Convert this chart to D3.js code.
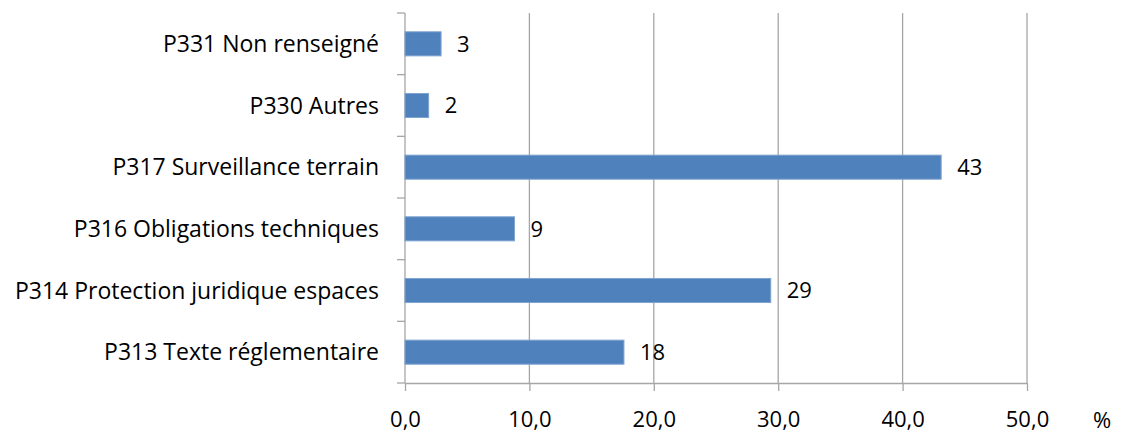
<!DOCTYPE html>
<html>
<head>
    <meta charset="utf-8">
    <title>Répartition P31x / P33x</title>
    <script src="https://d3js.org/d3.v7.min.js"></script>
    <style>
        body { margin: 0; background: #fff; }
        text { font-family: "Open Sans", sans-serif; fill: #000; }
        .grid line { stroke: #a6a6a6; stroke-width: 1.3px; }
        .axis path, .axis line { stroke: #a6a6a6; stroke-width: 1.3px; }
    </style>
</head>
<body>
<div id="chart"></div>
<script>
    // données (de haut en bas)
    const categories = [
        "P331 Non renseigné",
        "P330 Autres",
        "P317 Surveillance terrain",
        "P316 Obligations techniques",
        "P314 Protection juridique espaces",
        "P313 Texte réglementaire"
    ];
    const values = [2.9, 1.9, 43.1, 8.8, 29.4, 17.6];
    const xTicks = [0, 10, 20, 30, 40, 50];

    const width = 1123, height = 434;
    const margin = {top: 13, right: 96, bottom: 51, left: 405};
    const innerW = width - margin.left - margin.right;
    const innerH = height - margin.top - margin.bottom;

    const svg = d3.select("#chart").append("svg")
        .attr("width", width)
        .attr("height", height);

    const g = svg.append("g")
        .attr("transform", `translate(${margin.left},${margin.top})`);

    const x = d3.scaleLinear().domain([0, 50]).range([0, innerW]);
    const y = d3.scaleBand().domain(categories).range([0, innerH]).paddingInner(0.61).paddingOuter(0.305);
    const yBands = d3.scaleBand().domain(categories).range([0, innerH]);

    // lignes de grille verticales
    g.append("g").attr("class", "grid")
        .selectAll("line")
        .data(xTicks.slice(1))
        .join("line")
        .attr("x1", d => x(d)).attr("x2", d => x(d))
        .attr("y1", 0).attr("y2", innerH);

    // axe X
    const fmt = d => d3.format(".1f")(d).replace(".", ",");
    const xAxis = g.append("g").attr("class", "axis")
        .attr("transform", `translate(0,${innerH})`)
        .call(d3.axisBottom(x).tickValues(xTicks).tickFormat(fmt).tickSize(8).tickSizeOuter(0));
    xAxis.selectAll("text").attr("font-size", 22).attr("dy", "1.5em");

    // axe Y (graduations entre les catégories)
    const yTickPos = d3.range(categories.length + 1).map(i => i * yBands.step());
    const yAxis = g.append("g").attr("class", "axis");
    yAxis.append("line").attr("x1", 0).attr("x2", 0).attr("y1", 0).attr("y2", innerH);
    yAxis.selectAll(".tk").data(yTickPos).join("line").attr("class", "tk")
        .attr("x1", -8).attr("x2", 0)
        .attr("y1", d => d).attr("y2", d => d);

    // libellés des catégories
    g.append("g").selectAll("text")
        .data(categories)
        .join("text")
        .attr("x", -26)
        .attr("y", d => yBands(d) + yBands.bandwidth() / 2)
        .attr("dy", "0.35em")
        .attr("text-anchor", "end")
        .attr("font-size", 23)
        .text(d => d);

    // barres
    g.append("g").selectAll("rect")
        .data(values)
        .join("rect")
        .attr("x", 0)
        .attr("y", (d, i) => y(categories[i]))
        .attr("width", d => x(d))
        .attr("height", y.bandwidth())
        .attr("fill", "#4f81bd")
        .attr("stroke", "#7ea3d0")
        .attr("stroke-width", 1);

    // étiquettes de valeurs
    g.append("g").selectAll("text")
        .data(values)
        .join("text")
        .attr("x", d => x(d) + 16)
        .attr("y", (d, i) => y(categories[i]) + y.bandwidth() / 2)
        .attr("dy", "0.35em")
        .attr("font-size", 22)
        .text(d => Math.round(d));

    // unité
    svg.append("text")
        .attr("x", 1102)
        .attr("y", 420)
        .attr("dy", "0.35em")
        .attr("text-anchor", "middle")
        .attr("font-size", 22)
        .text("%");
</script>
</body>
</html>
